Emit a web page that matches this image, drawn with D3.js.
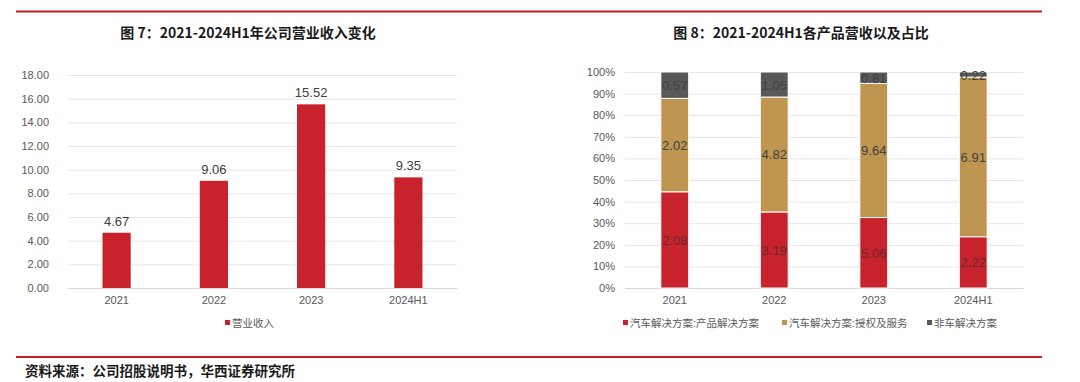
<!DOCTYPE html>
<html>
<head>
<meta charset="utf-8">
<script src="https://cdn.jsdelivr.net/npm/d3@7"></script>
<style>
  body { margin: 0; background: #fff; }
  svg { display: block; font-family: "Liberation Sans", Arial, "Noto Sans CJK SC", sans-serif; }
  .title { font-family: "Noto Sans CJK SC", sans-serif; font-weight: 700; font-size: 14px; fill: #1a1a1a; }
  .tick text { fill: #595959; font-size: 11px; }
</style>
</head>
<body>
<div id="chart"></div>
<script>
// Daten
const years = ["2021", "2022", "2023", "2024H1"]
const revenue = [4.67, 9.06, 15.52, 9.35]
const revTicks = [0, 2, 4, 6, 8, 10, 12, 14, 16, 18]

const seriesNames = ["汽车解决方案:产品解决方案", "汽车解决方案:授权及服务", "非车解决方案"]
const productSol = [2.08, 3.19, 5.06, 2.22]
const licenseSvc = [2.02, 4.82, 9.64, 6.91]
const nonCar = [0.57, 1.05, 0.81, 0.22]
const pctTicks = [0, 0.1, 0.2, 0.3, 0.4, 0.5, 0.6, 0.7, 0.8, 0.9, 1]

const colors = ["#C8232C", "#BE9650", "#595959"]

const W = 1080, H = 382

const svg = d3.select("#chart").append("svg")
  .attr("width", W)
  .attr("height", H)

// Rote Linien oben und unten
svg.append("line").attr("x1", 16).attr("x2", 1042).attr("y1", 11.5).attr("y2", 11.5)
  .attr("stroke", "#C0202A").attr("stroke-width", 2)
svg.append("line").attr("x1", 16).attr("x2", 1042).attr("y1", 357).attr("y2", 357)
  .attr("stroke", "#C0202A").attr("stroke-width", 2)

// Titel
svg.append("text").attr("class", "title").attr("x", 248).attr("y", 38)
  .attr("text-anchor", "middle").text("图 7：2021-2024H1年公司营业收入变化")
svg.append("text").attr("class", "title").attr("x", 801).attr("y", 38)
  .attr("text-anchor", "middle").text("图 8：2021-2024H1各产品营收以及占比")

// Quelle
svg.append("text").attr("x", 25).attr("y", 376)
  .style("font-family", "'Noto Sans CJK SC', sans-serif")
  .style("font-weight", 700).style("font-size", "13.5px").attr("fill", "#1a1a1a")
  .text("资料来源：公司招股说明书，华西证券研究所")

// ---------- Diagramm 1: Umsatz ----------
const left = { x0: 68, x1: 457, y0: 288, y1: 75 }
const g1 = svg.append("g")

const x1 = d3.scaleBand().domain(years).range([left.x0, left.x1]).paddingInner(0.71).paddingOuter(0.355)
const y1 = d3.scaleLinear().domain([0, 18]).range([left.y0, left.y1])

g1.append("g")
  .attr("transform", "translate(" + left.x0 + ",0)")
  .call(d3.axisLeft(y1).tickValues(revTicks).tickSize(-(left.x1 - left.x0)).tickPadding(19).tickFormat(d3.format(".2f")))
  .call(g => g.select(".domain").remove())
  .call(g => g.selectAll(".tick line").attr("stroke", "#e6e6e6"))

g1.append("g")
  .attr("transform", "translate(0," + left.y0 + ")")
  .call(d3.axisBottom(x1).tickSize(0).tickPadding(8))
  .call(g => g.select(".domain").attr("stroke", "#d9d9d9"))

g1.selectAll(".bar")
  .data(revenue)
  .enter().append("rect")
  .attr("x", (d, i) => x1(years[i]))
  .attr("y", d => y1(d))
  .attr("width", x1.bandwidth())
  .attr("height", d => y1(0) - y1(d))
  .attr("fill", colors[0])

g1.selectAll(".lbl")
  .data(revenue)
  .enter().append("text")
  .attr("x", (d, i) => x1(years[i]) + x1.bandwidth() / 2)
  .attr("y", d => y1(d) - 7)
  .attr("text-anchor", "middle")
  .style("font-size", "13px").attr("fill", "#404040")
  .text(d => d.toFixed(2))

// Legende links
g1.append("rect").attr("x", 225).attr("y", 320).attr("width", 5).attr("height", 5).attr("fill", colors[0])
g1.append("text").attr("x", 232).attr("y", 327).style("font-size", "10.5px").attr("fill", "#595959").text("营业收入")

// ---------- Diagramm 2: Anteile ----------
const right = { x0: 625, x1: 1023, y0: 288, y1: 72 }
const g2 = svg.append("g")

const x2 = d3.scaleBand().domain(years).range([right.x0, right.x1]).paddingInner(0.72).paddingOuter(0.36)
const y2 = d3.scaleLinear().domain([0, 1]).range([right.y0, right.y1])

g2.append("g")
  .attr("transform", "translate(" + right.x0 + ",0)")
  .call(d3.axisLeft(y2).tickValues(pctTicks).tickSize(-(right.x1 - right.x0)).tickPadding(10).tickFormat(d3.format(".0%")))
  .call(g => g.select(".domain").remove())
  .call(g => g.selectAll(".tick line").attr("stroke", "#e6e6e6"))

g2.append("g")
  .attr("transform", "translate(0," + right.y0 + ")")
  .call(d3.axisBottom(x2).tickSize(0).tickPadding(8))
  .call(g => g.select(".domain").attr("stroke", "#d9d9d9"))

const rows = years.map((yr, i) => ({ year: yr, a: productSol[i], b: licenseSvc[i], c: nonCar[i] }))
const stack = d3.stack().keys(["a", "b", "c"]).offset(d3.stackOffsetExpand)
const layers = stack(rows)

layers.forEach((layer, k) => {
  g2.selectAll(".seg" + k)
    .data(layer)
    .enter().append("rect")
    .attr("x", d => x2(d.data.year))
    .attr("y", d => y2(d[1]))
    .attr("width", x2.bandwidth())
    .attr("height", d => y2(d[0]) - y2(d[1]))
    .attr("fill", colors[k])
    .attr("stroke", "#fff").attr("stroke-width", 1)

  g2.selectAll(".sl" + k)
    .data(layer)
    .enter().append("text")
    .attr("x", d => x2(d.data.year) + x2.bandwidth() / 2)
    .attr("y", d => (y2(d[0]) + y2(d[1])) / 2 + 5)
    .attr("text-anchor", "middle")
    .style("font-size", "13px").attr("fill", k == 0 ? "#6a2a2a" : "#404040")
    .text(d => d.data[layer.key].toFixed(2))
})

// Legende rechts
const legX = [623, 782, 927]
seriesNames.forEach((n, i) => {
  g2.append("rect").attr("x", legX[i]).attr("y", 320).attr("width", 5).attr("height", 5).attr("fill", colors[i])
  g2.append("text").attr("x", legX[i] + 7).attr("y", 327).style("font-size", "10.5px").attr("fill", "#595959").text(n)
})
</script>
</body>
</html>
